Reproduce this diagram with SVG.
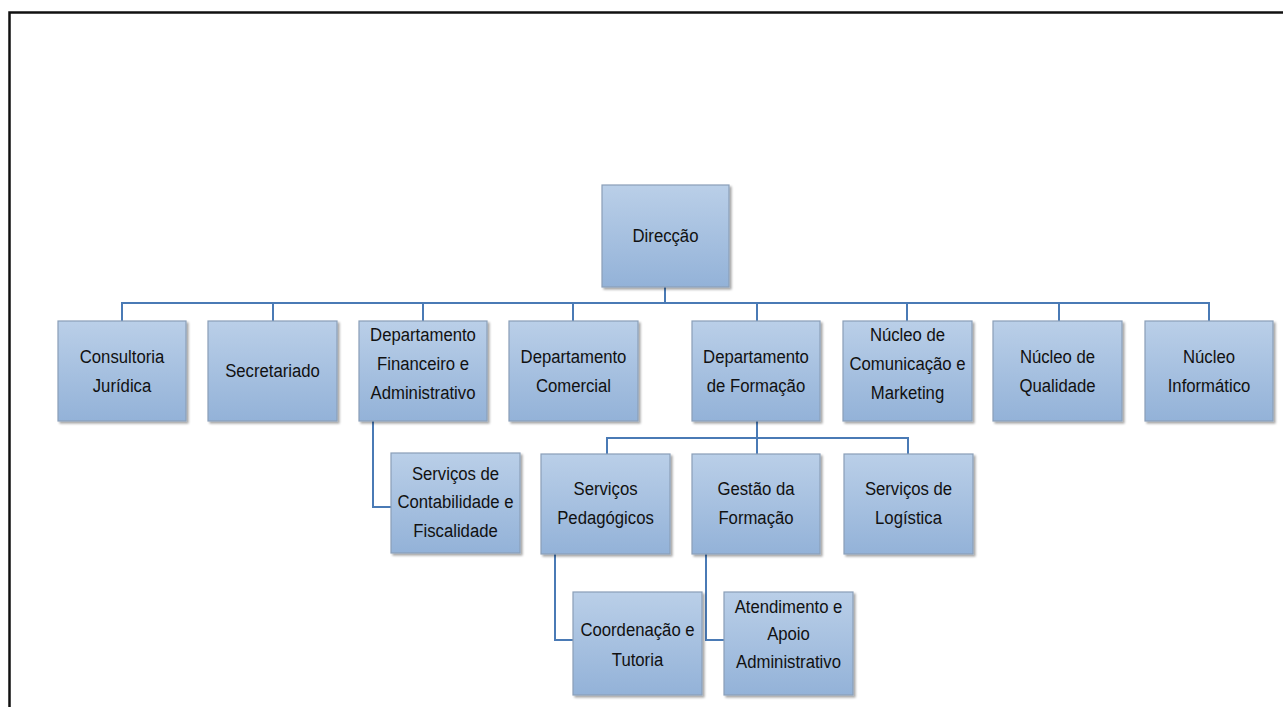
<svg xmlns="http://www.w3.org/2000/svg" width="1283" height="707" viewBox="0 0 1283 707">
<defs>
<linearGradient id="g" x1="0" y1="0" x2="0" y2="1">
<stop offset="0" stop-color="#bacfe8"/>
<stop offset="1" stop-color="#93b2d8"/>
</linearGradient>
<filter id="sh" x="-10%" y="-10%" width="130%" height="130%">
<feDropShadow dx="2" dy="2" stdDeviation="1.2" flood-color="#000" flood-opacity="0.35"/>
</filter>
</defs>
<style>
.box{fill:url(#g);stroke:#8a9fb8;stroke-width:1.2;filter:url(#sh)}
.t{font-family:"Liberation Sans",Arial,sans-serif;font-size:19px;fill:#111;text-anchor:middle;dominant-baseline:central}
.c{fill:none;stroke:#4a7ab5;stroke-width:2}
</style>
<rect width="1283" height="707" fill="#fff"/>
<path d="M9.5 707 V12.5 H1283" fill="none" stroke="#111" stroke-width="2.5"/>
<g id="connectors">
<path class="c" d="M665 287 V303 M122 321 V303 H1209 V321 M273 303 V321 M423 303 V321 M573 303 V321 M757 303 V321 M907 303 V321 M1059 303 V321"/>
<path class="c" d="M373 421 V507 H391"/>
<path class="c" d="M757 421 V438 M607 454 V438 H908 V454 M757 438 V454"/>
<path class="c" d="M555 554 V640 H573"/>
<path class="c" d="M706 554 V640 H724"/>
</g>
<g id="direccao"><rect class="box" x="602" y="185" width="127" height="102"/><text class="t" transform="matrix(0.88 0 0 1 665.5 236)">Direcção</text></g>
<g id="consultoria"><rect class="box" x="58" y="321" width="128" height="100"/><text class="t" transform="matrix(0.88 0 0 1 122 357)">Consultoria</text><text class="t" transform="matrix(0.88 0 0 1 122 386)">Jurídica</text></g>
<g id="secretariado"><rect class="box" x="208" y="321" width="129" height="100"/><text class="t" transform="matrix(0.88 0 0 1 272.5 371)">Secretariado</text></g>
<g id="financeiro"><rect class="box" x="359" y="321" width="128" height="100"/><text class="t" transform="matrix(0.88 0 0 1 423 335)">Departamento</text><text class="t" transform="matrix(0.88 0 0 1 423 364)">Financeiro e</text><text class="t" transform="matrix(0.88 0 0 1 423 393)">Administrativo</text></g>
<g id="comercial"><rect class="box" x="509" y="321" width="129" height="100"/><text class="t" transform="matrix(0.88 0 0 1 573.5 357)">Departamento</text><text class="t" transform="matrix(0.88 0 0 1 573.5 386)">Comercial</text></g>
<g id="formacao"><rect class="box" x="692" y="321" width="128" height="100"/><text class="t" transform="matrix(0.88 0 0 1 756 357)">Departamento</text><text class="t" transform="matrix(0.88 0 0 1 756 386)">de Formação</text></g>
<g id="comunicacao"><rect class="box" x="843" y="321" width="129" height="100"/><text class="t" transform="matrix(0.88 0 0 1 907.5 335)">Núcleo de</text><text class="t" transform="matrix(0.88 0 0 1 907.5 364)">Comunicação e</text><text class="t" transform="matrix(0.88 0 0 1 907.5 393)">Marketing</text></g>
<g id="qualidade"><rect class="box" x="993" y="321" width="129" height="100"/><text class="t" transform="matrix(0.88 0 0 1 1057.5 357)">Núcleo de</text><text class="t" transform="matrix(0.88 0 0 1 1057.5 386)">Qualidade</text></g>
<g id="informatico"><rect class="box" x="1145" y="321" width="128" height="100"/><text class="t" transform="matrix(0.88 0 0 1 1209 357)">Núcleo</text><text class="t" transform="matrix(0.88 0 0 1 1209 386)">Informático</text></g>
<g id="contabilidade"><rect class="box" x="391" y="453" width="129" height="100"/><text class="t" transform="matrix(0.88 0 0 1 455.5 474)">Serviços de</text><text class="t" transform="matrix(0.88 0 0 1 455.5 502)">Contabilidade e</text><text class="t" transform="matrix(0.88 0 0 1 455.5 531)">Fiscalidade</text></g>
<g id="pedagogicos"><rect class="box" x="541" y="454" width="129" height="100"/><text class="t" transform="matrix(0.88 0 0 1 605.5 489)">Serviços</text><text class="t" transform="matrix(0.88 0 0 1 605.5 518)">Pedagógicos</text></g>
<g id="gestao"><rect class="box" x="692" y="454" width="128" height="100"/><text class="t" transform="matrix(0.88 0 0 1 756 489)">Gestão da</text><text class="t" transform="matrix(0.88 0 0 1 756 518)">Formação</text></g>
<g id="logistica"><rect class="box" x="844" y="454" width="129" height="100"/><text class="t" transform="matrix(0.88 0 0 1 908.5 489)">Serviços de</text><text class="t" transform="matrix(0.88 0 0 1 908.5 518)">Logística</text></g>
<g id="coordenacao"><rect class="box" x="573" y="592" width="129" height="103"/><text class="t" transform="matrix(0.88 0 0 1 637.5 630)">Coordenação e</text><text class="t" transform="matrix(0.88 0 0 1 637.5 660)">Tutoria</text></g>
<g id="atendimento"><rect class="box" x="724" y="592" width="129" height="103"/><text class="t" transform="matrix(0.88 0 0 1 788.5 607)">Atendimento e</text><text class="t" transform="matrix(0.88 0 0 1 788.5 634)">Apoio</text><text class="t" transform="matrix(0.88 0 0 1 788.5 662)">Administrativo</text></g>
</svg>
